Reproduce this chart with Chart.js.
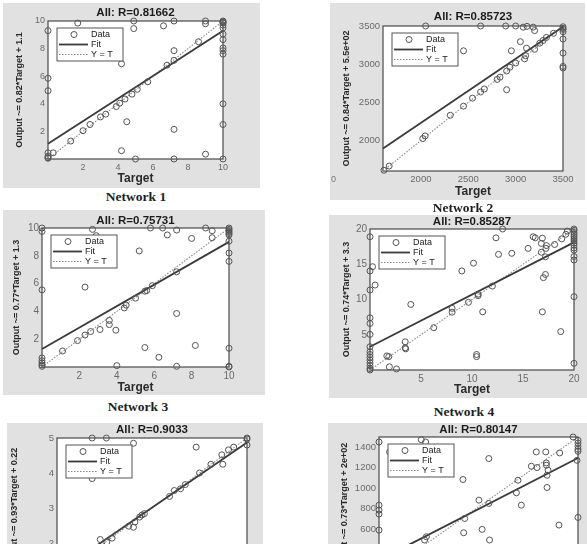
<!DOCTYPE html>
<html>
<head>
<meta charset="utf-8">
<script src="https://cdn.jsdelivr.net/npm/chart.js@4.4.0/dist/chart.umd.min.js"></script>
<style>
  body { margin: 0; width: 587px; height: 544px; overflow: hidden; background: #fff; position: relative; }
  .panel { position: absolute; background: #e1e1e1; }
  .panel canvas { display: block; }
  .caption { position: absolute; transform: translate(-50%, -50%); font-family: "Liberation Serif", serif; font-weight: bold; font-size: 13.5px; color: #1e1e1e; white-space: nowrap; }
  .stray { position: absolute; font-family: "Liberation Sans", sans-serif; font-size: 9px; color: #777; }
</style>
</head>
<body>
<script>
// Network 1 (Target, Output)
const net1Points = [[0,9.3],[0,5.85],[0,4.95],[0,0.45],[0,0.2],[0,0.1],[0,0.05],[0.3,0.45],[1.3,1.3],[1.7,9.85],
  [2.0,2.05],[2.4,2.5],[3.0,3.05],[3.3,3.25],[3.9,3.8],[4.1,4.05],[4.2,6.9],[4.2,0.6],[4.4,4.35],[4.5,2.7],
  [4.8,4.7],[4.9,10],[4.9,9.45],[5.0,0],[5.1,5.05],[5.7,5.6],[6.6,9.65],[6.8,6.8],[7.2,7.15],[7.2,7.85],
  [7.2,10],[7.2,2.15],[7.2,0],[8.6,8.5],[9.0,10],[9.0,9.8],[9.0,0.35],[10,10],[10,9.95],[10,9.9],[10,9.85],
  [10,9.7],[10,9.5],[10,9.05],[10,8.65],[10,8.05],[10,7.85],[10,7.6],[10,4.0],[10,2.5],[10,0]];
const net1Fit = [[0,1.1],[10,9.3]];
const net1Range = [0, 10];
const net1Ticks = [2,4,6,8,10];

// Network 2
const net2Points = [[1610,1610],[1665,1665],[2020,2025],[2045,2060],[2050,3500],[2310,2330],[2450,2450],[2450,3175],
  [2545,2555],[2630,3500],[2630,2635],[2670,2675],[2805,2800],[2835,2830],[2895,3500],[2905,2665],[2905,2910],
  [2940,2960],[2955,3175],[3000,3015],[3000,3500],[3050,3295],[3080,3485],[3095,3070],[3105,3110],[3115,3210],
  [3120,3495],[3185,3485],[3200,3440],[3200,3195],[3255,3275],[3290,3310],[3325,3350],[3400,3405],[3500,3490],
  [3500,3470],[3500,3455],[3500,3425],[3500,3330],[3500,3145],[3500,2970],[3500,2950]];
const net2Fit = [[1600,1894],[3500,3490]];
const net2Range = [1600, 3500];
const net2Ticks = [2000,2500,3000,3500];

// Network 3
const net3Points = [[0,10],[0,9.75],[0,5.55],[0,0.65],[0,0.45],[0,0.3],[0,0.15],[0,0.05],[1.1,1.15],[1.9,1.9],
  [2.3,2.3],[2.3,5.75],[2.6,2.55],[2.7,9.9],[2.9,9.45],[3.1,2.7],[3.6,3.05],[3.6,3.35],[3.95,2.65],[4.0,0.1],
  [4.4,4.25],[4.5,4.45],[5.0,4.95],[5.2,8.35],[5.5,1.4],[5.5,5.45],[5.6,5.5],[5.8,10],[5.9,5.85],[6.25,0.7],
  [6.45,10],[6.7,9.5],[7.2,9.85],[7.2,6.85],[7.2,3.85],[7.2,0.05],[8.0,9.25],[8.2,1.55],[8.75,10],[9.1,9.8],
  [9.1,9.3],[10,10],[10,9.9],[10,9.8],[10,9.7],[10,9.6],[10,9.5],[10,9.05],[10,8.2],[10,7.6],[10,1.35],[10,0.05],[10,0]];
const net3Fit = [[0,1.3],[10,9.0]];
const net3Range = [0, 10];
const net3Ticks = [2,4,6,8,10];

// Network 4
const net4Points = [[0,18.9],[0,14.05],[0,11.35],[0,7.4],[0,6.6],[0,5.05],[0,3.3],[0,2.6],[0,2.2],[0,1.8],[0,1.4],
  [0,1.0],[0,0.6],[0,0.2],[0,0],[0.25,14.65],[0.5,12.05],[1.65,2.0],[1.85,1.9],[1.9,0.45],[2.6,0.15],[3.45,4.0],
  [3.45,3.15],[3.5,3.0],[4.0,9.3],[6.25,6.0],[8.05,8.75],[8.05,8.2],[9.0,14.05],[9.65,9.6],[10.15,15.15],
  [10.45,2.2],[10.45,1.9],[10.6,10.55],[10.6,10.75],[11.05,8.25],[12.0,11.9],[12.35,18.75],[12.6,16.4],[13.0,20],
  [13.9,16.55],[15.5,17.25],[16.0,18.9],[16.2,18.75],[16.9,18.7],[16.9,8.25],[16.8,17.95],[16.8,16.7],[17.0,13.1],
  [17.2,13.55],[17.25,17.25],[17.3,17.65],[17.2,16.05],[18.1,17.8],[18.7,5.45],[18.8,18.6],[19.2,19.25],[19.35,19.7],
  [20,20],[20,19.8],[20,19.5],[20,19.2],[20,18.9],[20,18.6],[20,18.3],[20,18.0],[20,17.7],[20,17.3],[20,17.0],
  [20,16.1],[20,15.6],[20,10.4],[20,0.95]];
const net4Fit = [[0,3.3],[20,18.1]];
const net4Range = [0, 20];
const net4Ticks = [5,10,15,20];

// Network 5 (bottom part cut off in the picture)
const net5Points = [[1.74,5.0],[2.04,5.0],[1.74,3.84],[2.61,4.85],[1.91,2.1],[2.05,2.03],[2.16,2.14],[2.51,2.48],
  [2.61,2.45],[2.64,2.6],[2.74,2.74],[2.79,2.8],[2.84,2.84],[3.37,3.33],[3.47,3.5],[3.6,3.55],[3.7,3.67],[3.93,4.74],
  [4.0,4.0],[4.24,4.25],[4.49,4.25],[4.47,4.52],[4.61,4.66],[4.72,4.74],[5,5],[5,4.97],[5,4.8]];
const net5Fit = [[1,1.15],[5,4.87]];
const net5Range = [1, 5];
const net5Ticks = [2,3,4,5];

// Network 6
const net6Points = [[130,1451],[130,833],[130,785],[130,746],[130,589],[203,1354],[421,1474],[451,1451],[456,524],
  [444,492],[708,1084],[720,703],[713,563],[818,882],[840,596],[886,850],[891,492],[886,1289],[1076,954],[1087,1077],
  [1110,833],[1179,1214],[1213,1354],[1218,1201],[1278,1354],[1282,1246],[1282,1224],[1287,1126],[1287,1006],
  [1294,1175],[1374,1344],[1369,638],[1466,1500],[1500,1467],[1500,1440],[1500,1410],[1500,1380],[1500,1360],
  [1493,1272],[1500,713]];
const net6Fit = [[130,295],[1500,1295]];
const net6Range = [130, 1500];
const net6Ticks = [400,600,800,1000,1200,1400];

const titles = ['All: R=0.81662', 'All: R=0.85723', 'All: R=0.75731', 'All: R=0.85287', 'All: R=0.9033', 'All: R=0.80147'];
const yLabels = ['Output ~= 0.82*Target + 1.1', 'Output ~= 0.84*Target + 5.5e+02', 'Output ~= 0.77*Target + 1.3',
  'Output ~= 0.74*Target + 3.3', 'Output ~= 0.93*Target + 0.22', 'Output ~= 0.73*Target + 2e+02'];
const captions = ['Network 1', 'Network 2', 'Network 3', 'Network 4'];
const legendLabels = ['Data', 'Fit', 'Y = T'];

Chart.defaults.font.family = '"Liberation Sans", Arial, sans-serif';

const frame = {
  id: 'frame',
  beforeDraw(chart) {
    const a = chart.chartArea, ctx = chart.ctx;
    ctx.save();
    ctx.fillStyle = '#ffffff';
    ctx.fillRect(a.left, a.top, a.width, a.height);
    ctx.restore();
  },
  beforeDatasetsDraw(chart) {
    const a = chart.chartArea, ctx = chart.ctx;
    ctx.save();
    ctx.strokeStyle = '#4a4a4a';
    ctx.lineWidth = 1.2;
    ctx.strokeRect(a.left, a.top, a.width, a.height);
    ctx.restore();
  },
  afterDatasetsDraw(chart) {
    // legend box in the upper left corner of the axes
    const a = chart.chartArea, ctx = chart.ctx;
    const lx = a.left + 9, ly = a.top + 7, lw = 66, lh = 33;
    const sets = chart.data.datasets;
    ctx.save();
    ctx.fillStyle = '#fff';
    ctx.fillRect(lx, ly, lw, lh);
    ctx.strokeStyle = '#555';
    ctx.lineWidth = 1;
    ctx.strokeRect(lx, ly, lw, lh);
    ctx.font = '9px "Liberation Sans", Arial, sans-serif';
    ctx.textBaseline = 'middle';
    sets.forEach((ds, i) => {
      const ry = ly + 6.5 + i * 10;
      ctx.strokeStyle = ds.borderColor;
      ctx.lineWidth = ds.borderWidth;
      ctx.setLineDash(ds.borderDash || []);
      if (i === 0) {
        ctx.lineWidth = 1;
        ctx.beginPath();
        ctx.arc(lx + 17, ry, 3, 0, Math.PI * 2);
        ctx.stroke();
      } else {
        ctx.beginPath();
        ctx.moveTo(lx + 2, ry);
        ctx.lineTo(lx + 31, ry);
        ctx.stroke();
      }
      ctx.setLineDash([]);
      ctx.fillStyle = '#222';
      ctx.fillText(ds.label, lx + 34, ry);
    });
    ctx.restore();
  }
};

const toXY = arr => arr.map(p => ({x: p[0], y: p[1]}));

function makePanel(n, points, fit, range, ticks, box, plot, txt) {
  const wrap = document.createElement('div');
  wrap.className = 'panel';
  wrap.style.left = box[0] + 'px';
  wrap.style.top = box[1] + 'px';
  wrap.style.width = box[2] + 'px';
  wrap.style.height = box[3] + 'px';
  const canvas = document.createElement('canvas');
  canvas.width = box[2];
  canvas.height = box[3];
  wrap.appendChild(canvas);
  document.body.appendChild(wrap);

  const yW = plot[0] - box[0];
  const rightPad = box[0] + box[2] - plot[2];
  const titleH = plot[1] - box[1];
  const xH = box[1] + box[3] - plot[3];
  const titleTop = Math.max(0, txt.titleC - 6.9);

  const tickFont = {size: txt.tick};
  const pickTicks = s => { s.ticks = ticks.map(v => ({value: v})); };

  new Chart(canvas, {
    type: 'scatter',
    data: {
      datasets: [
        {label: legendLabels[0], data: toXY(points), pointStyle: 'circle', pointRadius: 3,
          pointBorderWidth: 1, borderColor: '#555', borderWidth: 1, backgroundColor: 'rgba(0,0,0,0)', clip: false},
        {label: legendLabels[1], data: toXY(fit), showLine: true, pointRadius: 0,
          borderColor: '#3a3a3a', borderWidth: 1.8, clip: false},
        {label: legendLabels[2], data: toXY([[range[0], range[0]], [range[1], range[1]]]), showLine: true, pointRadius: 0,
          borderColor: '#8a8a8a', borderWidth: 1.1, borderDash: [1.5, 1.5], clip: false}
      ]
    },
    options: {
      responsive: false,
      animation: false,
      events: [],
      layout: {padding: {left: 0, right: rightPad, top: 0, bottom: 0}},
      plugins: {
        legend: {display: false},
        tooltip: {enabled: false},
        title: {display: true, text: titles[n], fullSize: false, color: '#1c1c1c',
          font: {size: 11.5, weight: 'bold'},
          padding: {top: titleTop, bottom: Math.max(0, titleH - titleTop - 13.8)}}
      },
      scales: {
        x: {type: 'linear', min: range[0], max: range[1],
          grid: {display: false, drawTicks: false}, border: {display: false},
          ticks: {color: '#6a6a6a', font: tickFont, padding: 3, maxRotation: 0, callback: v => String(v)},
          title: {display: true, text: 'Target', color: '#2a2a2a', font: {size: 12, weight: 'bold'},
            padding: {top: 0, bottom: txt.xTitleB}},
          afterBuildTicks: pickTicks,
          afterFit: s => { s.height = xH; }},
        y: {type: 'linear', min: range[0], max: range[1],
          grid: {display: false, drawTicks: false}, border: {display: false},
          ticks: {color: '#6a6a6a', font: tickFont, padding: 3, callback: v => String(v)},
          title: {display: true, text: yLabels[n], color: '#2a2a2a', font: {size: 9, weight: 'bold'},
            padding: {top: txt.yTitleT, bottom: 0}},
          afterBuildTicks: pickTicks,
          afterFit: s => { s.width = yW; }}
      }
    },
    plugins: [frame]
  });
}

// box: [left, top, width, height], plot: [left, top, right, bottom]
makePanel(0, net1Points, net1Fit, net1Range, net1Ticks, [3, 3, 257, 185], [48, 21, 223, 159],
  {titleC: 10, xTitleB: 1.8, yTitleT: 11.6, tick: 9});
makePanel(1, net2Points, net2Fit, net2Range, net2Ticks, [330, 3, 255, 197], [383, 26, 563, 171],
  {titleC: 14, xTitleB: 0.8, yTitleT: 11.6, tick: 9.5});
makePanel(2, net3Points, net3Fit, net3Range, net3Ticks, [3, 210, 262, 185], [42, 228, 229, 367],
  {titleC: 11, xTitleB: 0, yTitleT: 8.6, tick: 10});
makePanel(3, net4Points, net4Fit, net4Range, net4Ticks, [329, 215, 258, 183], [370, 229, 574, 370],
  {titleC: 7, xTitleB: 0.8, yTitleT: 12.6, tick: 10});
makePanel(4, net5Points, net5Fit, net5Range, net5Ticks, [7, 423, 256, 187], [57, 438, 247, 578],
  {titleC: 7, xTitleB: 1, yTitleT: 2.6, tick: 9.5});
makePanel(5, net6Points, net6Fit, net6Range, net6Ticks, [328, 423, 259, 187], [379, 437, 578, 577],
  {titleC: 6, xTitleB: 1, yTitleT: 11.6, tick: 9.5});

// captions under the upper panels
const capPos = [[136, 197], [463, 208], [138, 407], [464, 412]];
captions.forEach((c, i) => {
  const d = document.createElement('div');
  d.className = 'caption';
  d.textContent = c;
  d.style.left = capPos[i][0] + 'px';
  d.style.top = capPos[i][1] + 'px';
  document.body.appendChild(d);
});
const stray = document.createElement('div');
stray.className = 'stray';
stray.textContent = '0';
stray.style.left = '331px';
stray.style.top = '174px';
document.body.appendChild(stray);
</script>
</body>
</html>
